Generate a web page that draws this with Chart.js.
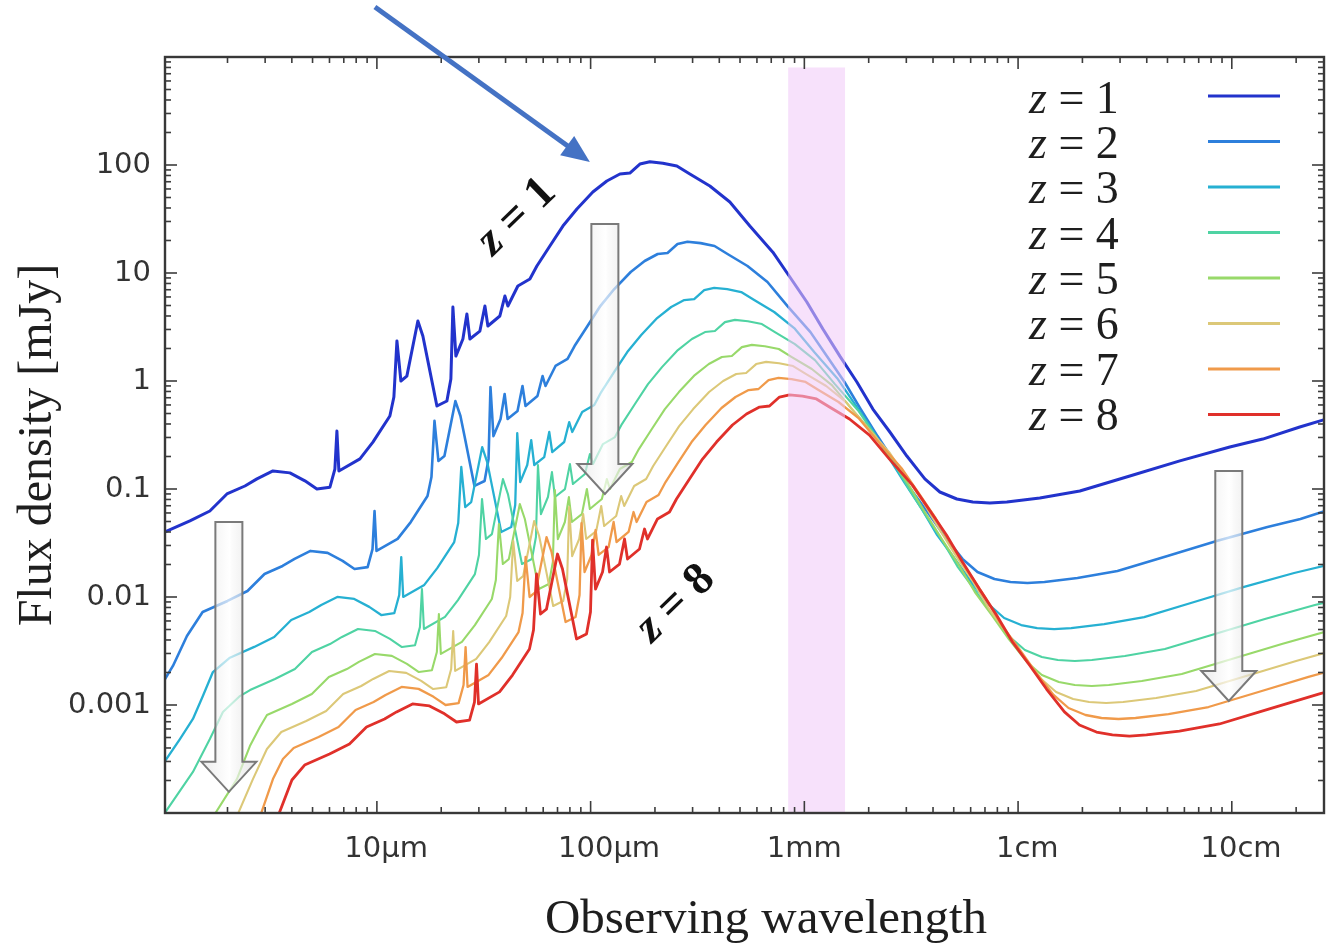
<!DOCTYPE html>
<html>
<head>
<meta charset="utf-8">
<script src="https://cdn.jsdelivr.net/npm/chart.js@4.4.1/dist/chart.umd.min.js"></script>
<style>
html,body{margin:0;padding:0;background:#ffffff;}
#wrap{width:1327px;height:947px;position:relative;}
</style>
</head>
<body>
<div id="wrap"><canvas id="c" width="1327" height="947"></canvas></div>
<script>
// ---------------- DATA (observed wavelength in µm, flux density in mJy) ----------------
const seriesLabels = ['z = 1','z = 2','z = 3','z = 4','z = 5','z = 6','z = 7','z = 8'];

const lam_z1 = [1.02,1.334,1.654,1.987,2.413,2.746,3.263,3.917,4.605,5.24,6.03,6.36,6.50,6.64,8.33,9.58,11.50,12.01,12.41,12.95,13.81,15.55,16.41,17.14,19.09,21.26,22.19,22.68,23.42,25.26,26.37,27.24,30.34,32.02,33.06,37.62,39.70,41.02,45.66,51.98,56.05,64.47,74.18,86.26,102.4,119.1,137.1,152.6,170.0,189.3,217.8,253.2,291.3,361.3,448.2,555.9,712.2,855.4,1027,1221,1466,1761,2092,2512,3017,3662,4305,5169,6141,7376,8859,12640,19450,33330,57120,97860,139600,208000,278200];
const flux_z1 = [0.0400,0.0506,0.0626,0.0899,0.1066,0.124,0.147,0.141,0.119,0.100,0.104,0.153,0.344,0.147,0.190,0.272,0.474,0.711,2.35,1.00,1.11,3.59,2.61,1.70,0.587,0.653,1.044,4.84,1.70,2.45,4.17,2.45,2.90,4.95,3.23,4.00,6.12,4.95,7.58,8.80,11.6,17.8,27.2,39.1,56.2,71.1,82.5,84.3,102,107,104,97.9,82.5,63.9,45.4,27.2,15.6,9.18,5.39,3.03,1.70,0.979,0.550,0.337,0.202,0.124,0.0938,0.0808,0.0758,0.0742,0.0758,0.0825,0.0958,0.132,0.182,0.245,0.290,0.375,0.445];

const lam_z2 = [1.02,1.111,1.292,1.53,2.00,2.48,2.98,3.62,4.12,4.89,5.88,6.91,7.86,9.05,9.54,9.75,9.96,12.5,14.4,17.25,18.0,18.6,19.4,20.7,23.3,24.6,25.7,28.6,31.9,33.3,34.0,35.1,37.9,39.6,40.9,45.5,48.0,49.6,56.4,59.6,61.5,68.5,78.0,84.1,96.7,111,129,154,179,206,229,255,284,327,380,437,542,672,834,1068,1283,1541,1832,2199,2642,3138,3768,4526,5493,6458,7754,9212,11060,13290,18960,29180,50000,85680,146800,209400,312000];
const flux_z2 = [0.00174,0.0023,0.00435,0.00727,0.00919,0.01137,0.01633,0.01937,0.02253,0.02671,0.02562,0.02162,0.01817,0.0189,0.0278,0.0625,0.0267,0.0345,0.0494,0.0861,0.129,0.427,0.182,0.202,0.652,0.474,0.309,0.1067,0.1187,0.19,0.879,0.309,0.445,0.758,0.445,0.527,0.899,0.587,0.727,1.112,0.899,1.377,1.599,2.108,3.234,4.942,7.104,10.21,12.92,14.99,15.32,18.53,19.44,18.9,17.79,14.99,11.61,8.249,4.942,2.835,1.668,0.979,0.551,0.309,0.178,0.0999,0.0612,0.0367,0.02253,0.01704,0.01468,0.01377,0.01348,0.01377,0.01499,0.01741,0.02398,0.0331,0.0445,0.0527,0.0681];

const lam_z3 = [1.02,1.198,1.378,1.534,1.709,2.04,2.668,3.308,3.974,4.826,5.492,6.526,7.834,9.21,10.48,12.06,12.72,13.0,13.28,16.66,19.16,23.0,24.02,24.82,25.9,27.62,31.1,32.82,34.28,38.18,42.52,44.38,45.36,46.84,50.52,52.74,54.48,60.68,64.04,66.12,75.24,79.4,82.04,91.32,104.0,112.1,128.9,148.4,172.5,204.8,238.2,274.2,305.2,340,378.6,435.6,506.4,582.6,722.6,896.4,1112,1424,1711,2054,2442,2932,3522,4184,5024,6034,7324,8610,10340,12280,14750,17720,25280,38900,66660,114200,195700,279200];
const flux_z3 = [0.000303,0.000484,0.000742,0.00121,0.00202,0.00272,0.00345,0.00426,0.00612,0.00726,0.00844,0.01001,0.0096,0.0081,0.00681,0.00708,0.01042,0.02343,0.01001,0.01294,0.01852,0.03228,0.04842,0.16,0.0681,0.0756,0.2445,0.1777,0.1158,0.03997,0.04447,0.0711,0.3296,0.1158,0.1668,0.284,0.1668,0.1975,0.3371,0.22,0.2724,0.4168,0.3371,0.5162,0.5993,0.79,1.212,1.852,2.663,3.827,4.842,5.618,5.741,6.946,7.287,7.082,6.667,5.618,4.352,3.092,1.852,1.062,0.6252,0.3671,0.2063,0.1158,0.06667,0.03746,0.02295,0.01376,0.00844,0.00639,0.0055,0.00516,0.00505,0.00516,0.00562,0.00652,0.00899,0.01239,0.01668,0.01975];

const lam_z4 = [1.0,1.378,1.654,1.904,2.286,2.55,3.335,4.135,4.968,6.033,6.865,8.158,9.793,11.51,13.1,15.08,15.9,16.25,16.6,20.83,23.95,28.75,30.03,31.03,32.38,34.53,38.88,41.03,42.85,47.73,53.15,55.48,56.7,58.55,63.15,65.93,68.1,75.85,80.05,82.65,94.05,99.25,102.6,114.2,130,140.1,161.2,185.5,215.7,256,297.8,342.8,381.5,425,473.3,544.5,633,728.3,903.3,1121,1390,1781,2139,2568,3053,3665,4403,5230,6280,7543,9155,10760,12920,15350,18440,22150,31600,48630,83330,142800,244700,349000];
const flux_z4 = [0.000095,0.00024,0.000484,0.000861,0.00121,0.001376,0.00174,0.002153,0.003093,0.003667,0.004266,0.005057,0.00485,0.004094,0.00344,0.003578,0.005263,0.01183,0.005057,0.006536,0.009357,0.01631,0.02446,0.08084,0.0344,0.03818,0.1235,0.08978,0.05848,0.02019,0.02246,0.03591,0.1665,0.05848,0.08428,0.1434,0.08428,0.09976,0.1703,0.1111,0.1376,0.2105,0.1703,0.2608,0.3027,0.399,0.6123,0.9357,1.345,1.933,2.446,2.838,2.9,3.509,3.681,3.578,3.368,2.838,2.198,1.562,0.9357,0.5366,0.3158,0.1854,0.1042,0.05848,0.03368,0.01892,0.01159,0.006949,0.004266,0.003227,0.00278,0.002608,0.002552,0.002608,0.002838,0.003296,0.004541,0.006261,0.008428,0.009976];

const lam_z5 = [1.746,2.213,2.546,2.836,3.06,4.002,4.962,5.961,7.239,8.238,9.789,11.75,13.82,15.72,18.09,19.08,19.5,19.92,24.99,28.74,34.5,36.03,37.23,38.85,41.43,46.65,49.23,51.42,57.27,63.78,66.57,68.04,70.26,75.78,79.11,81.72,91.02,96.06,99.18,112.9,119.1,123.1,137,155.9,168.2,193.4,222.5,258.8,307.2,357.3,411.3,457.8,510,567.9,653.4,759.6,873.9,1084,1345,1668,2137,2566,3081,3663,4398,5283,6276,7536,9051,10990,12920,15510,18420,22130,26580,37920,58350,99990,171400,293600];
const flux_z5 = [0.000098,0.000206,0.000417,0.000625,0.000808,0.001022,0.001265,0.001816,0.002153,0.002505,0.002969,0.002848,0.002404,0.00202,0.002101,0.003091,0.006949,0.002969,0.003838,0.005494,0.009575,0.01436,0.04747,0.0202,0.02242,0.07252,0.05272,0.03434,0.01186,0.01319,0.02109,0.09777,0.03434,0.04949,0.08423,0.04949,0.05858,0.1,0.06525,0.0808,0.1236,0.1,0.1531,0.1778,0.2343,0.3596,0.5494,0.7898,1.135,1.436,1.667,1.703,2.06,2.161,2.101,1.978,1.667,1.291,0.9171,0.5494,0.3151,0.1854,0.1089,0.06121,0.03434,0.01978,0.01111,0.006807,0.00408,0.002505,0.001895,0.001632,0.001531,0.001499,0.001531,0.001667,0.001935,0.002666,0.003676,0.004949];

const lam_z6 = [2.237,2.63,3.058,3.57,4.669,5.789,6.955,8.446,9.611,11.42,13.71,16.12,18.34,21.11,22.26,22.75,23.24,29.16,33.53,40.25,42.04,43.44,45.33,48.34,54.43,57.44,59.99,66.82,74.41,77.67,79.38,81.97,88.41,92.3,95.34,106.2,112.1,115.7,131.7,139,143.6,159.8,181.9,196.2,225.6,259.6,301.9,358.4,416.9,479.9,534.1,595,662.6,762.3,886.2,1020,1265,1569,1946,2493,2994,3595,4274,5131,6164,7322,8792,10560,12820,15070,18090,21490,25820,31010,44240,68080,116700,199900,342500];
const flux_z6 = [0.000098,0.000206,0.000391,0.000562,0.000711,0.00088,0.001264,0.001499,0.001743,0.002067,0.001982,0.001673,0.001406,0.001462,0.002151,0.004837,0.002067,0.002671,0.003824,0.006664,0.009997,0.03304,0.01406,0.01561,0.05048,0.0367,0.0239,0.008253,0.009181,0.01468,0.06805,0.0239,0.03445,0.05863,0.03445,0.04077,0.0696,0.04541,0.05624,0.08605,0.0696,0.1066,0.1237,0.1631,0.2503,0.3824,0.5497,0.7902,0.9997,1.16,1.185,1.434,1.504,1.462,1.376,1.16,0.8984,0.6383,0.3824,0.2193,0.1291,0.07578,0.0426,0.0239,0.01376,0.007733,0.004738,0.00284,0.001743,0.001319,0.001136,0.001066,0.001043,0.001066,0.00116,0.001347,0.001856,0.002559,0.003445];

const lam_z7 = [2.867,3.263,3.633,4.08,5.336,6.616,7.948,9.652,10.98,13.05,15.67,18.42,20.96,24.12,25.44,26.0,26.56,33.32,38.32,46.0,48.04,49.64,51.8,55.24,62.2,65.64,68.56,76.36,85.04,88.76,90.72,93.68,101,105.5,109,121.4,128.1,132.2,150.5,158.8,164.1,182.6,207.9,224.2,257.9,296.7,345,409.6,476.4,548.4,610.4,680,757.2,871.2,1013,1165,1445,1793,2224,2849,3422,4108,4884,5864,7044,8368,10050,12070,14650,17220,20680,24560,29500,35440,50560,77800,133300,228500,391400];
const flux_z7 = [0.000098,0.000206,0.000316,0.0004,0.000506,0.000626,0.000899,0.001066,0.00124,0.00147,0.00141,0.00119,0.001,0.00104,0.00153,0.00344,0.00147,0.0019,0.00272,0.00474,0.00711,0.0235,0.01,0.0111,0.0359,0.0261,0.017,0.00587,0.00653,0.01044,0.0484,0.017,0.0245,0.0417,0.0245,0.029,0.0495,0.0323,0.04,0.0612,0.0495,0.0758,0.088,0.116,0.178,0.272,0.391,0.562,0.711,0.825,0.843,1.02,1.07,1.04,0.979,0.825,0.639,0.454,0.272,0.156,0.0918,0.0539,0.0303,0.017,0.00979,0.0055,0.00337,0.00202,0.00124,0.000938,0.000808,0.000758,0.000742,0.000758,0.000825,0.000958,0.00132,0.00182,0.00245];

const lam_z8 = [3.479,4.003,4.59,6.003,7.443,8.942,10.86,12.36,14.68,17.63,20.72,23.58,27.14,28.62,29.25,29.88,37.49,43.11,51.75,54.05,55.85,58.28,62.15,69.98,73.85,77.13,85.91,95.67,99.86,102.1,105.4,113.7,118.7,122.6,136.5,144.1,148.8,169.3,178.7,184.6,205.5,233.9,252.2,290.1,333.8,388.2,460.8,536,617,686.7,765,851.9,980.1,1139,1311,1626,2017,2502,3205,3849,4622,5494,6597,7925,9414,11300,13580,16480,19370,23260,27630,33190,39870,56880,87530,150000,257000,440400];
const flux_z8 = [0.000098,0.000202,0.000278,0.000352,0.000436,0.000626,0.000742,0.000863,0.001023,0.000981,0.000828,0.000696,0.000724,0.001065,0.002394,0.001023,0.001322,0.001893,0.003299,0.004949,0.01636,0.00696,0.007726,0.02499,0.01817,0.01183,0.004086,0.004545,0.007266,0.03369,0.01183,0.01705,0.02902,0.01705,0.02018,0.03445,0.02248,0.02784,0.0426,0.03445,0.05276,0.06125,0.08074,0.1239,0.1893,0.2721,0.3912,0.4949,0.5742,0.5867,0.7099,0.7447,0.7238,0.6814,0.5742,0.4447,0.316,0.1893,0.1086,0.06389,0.03751,0.02109,0.01183,0.006814,0.003828,0.002346,0.001406,0.000863,0.000653,0.000562,0.000528,0.000516,0.000528,0.000574,0.000667,0.000919,0.001267,0.001705];

// tick labels
const xTickValues = [10, 100, 1000, 10000, 100000];
const xTickLabels = ['10µm', '100µm', '1mm', '1cm', '10cm'];
const yTickValues = [100, 10, 1, 0.1, 0.01, 0.001];
const yTickLabels = ['100', '10', '1', '0.1', '0.01', '0.001'];

// shaded observing band (µm) and its upper edge (mJy)
const bandRange = [840, 1550];
const bandTop = 800;

// annotation anchors in data units [wavelength µm, flux mJy]
const arrowsDown = [
  {lam: 2.03, top: 0.0495, tip: 0.000157},
  {lam: 116.6, top: 28.4, tip: 0.0899},
  {lam: 96800, top: 0.147, tip: 0.00109}
];
const pointerArrow = {from: [9.79, 2904], to: [99.2, 106.6]};
const curveNotes = [
  {text: ['z', ' = 1'], lam: 45.2, flux: 33.0},
  {text: ['z', ' = 8'], lam: 250.5, flux: 0.00861}
];

// ---------------- STYLE ----------------
const seriesColors = ['#2233cc', '#2d7fdc', '#26b0d2', '#4fd3a3', '#98d96a', '#dcc878', '#f09a4a', '#e0302a'];
const seriesWidths = [3, 2.6, 2.3, 2.1, 2.1, 2.1, 2.3, 2.8];
// horizontal nudge of each x tick label (layout only), in leading spaces
const xLabelNudge = [2, 4, 0, 2, 2];

const lamSets = [lam_z1, lam_z2, lam_z3, lam_z4, lam_z5, lam_z6, lam_z7, lam_z8];
const fluxSets = [flux_z1, flux_z2, flux_z3, flux_z4, flux_z5, flux_z6, flux_z7, flux_z8];

const datasets = lamSets.map((lam, i) => {
  const fl = fluxSets[i];
  const n = Math.min(lam.length, fl.length);
  if (lam.length !== fl.length) console.warn('length mismatch', i, lam.length, fl.length);
  const pts = [];
  for (let j = 0; j < n; j++) pts.push({x: lam[j], y: fl[j]});
  return {
    label: seriesLabels[i],
    data: pts,
    borderColor: seriesColors[i],
    backgroundColor: seriesColors[i],
    borderWidth: seriesWidths[i],
    pointRadius: 0,
    tension: 0,
    fill: false,
    borderJoinStyle: 'round',
    borderCapStyle: 'round',
    order: 8 - i
  };
});

function decadeTicks(min, max) {
  const out = [];
  const e0 = Math.floor(Math.log10(min)), e1 = Math.ceil(Math.log10(max));
  for (let e = e0; e <= e1; e++) {
    for (let m = 1; m <= 9; m++) {
      const v = Number((m * Math.pow(10, e)).toPrecision(6));
      if (v >= min * 0.999999 && v <= max * 1.000001) out.push({value: v});
    }
  }
  return out;
}
function isDecade(v) {
  const l = Math.log10(v);
  return Math.abs(l - Math.round(l)) < 1e-6;
}
function tickIndex(values, v) {
  return values.findIndex(t => Math.abs(t - v) / t < 1e-6);
}

function line(ctx, x0, y0, x1, y1) {
  ctx.beginPath(); ctx.moveTo(x0, y0); ctx.lineTo(x1, y1); ctx.stroke();
}

function hollowArrow(ctx, cx, yTop, yTip) {
  const sw = 13.5, hw = 27.5, hl = 30;
  const yb = yTip - hl;
  ctx.save();
  ctx.beginPath();
  ctx.moveTo(cx - sw, yTop);
  ctx.lineTo(cx + sw, yTop);
  ctx.lineTo(cx + sw, yb);
  ctx.lineTo(cx + hw, yb);
  ctx.lineTo(cx, yTip);
  ctx.lineTo(cx - hw, yb);
  ctx.lineTo(cx - sw, yb);
  ctx.closePath();
  const g = ctx.createLinearGradient(cx - hw, 0, cx + hw, 0);
  g.addColorStop(0, 'rgba(225,225,225,0.6)');
  g.addColorStop(0.5, 'rgba(255,255,255,0.7)');
  g.addColorStop(1, 'rgba(215,215,215,0.6)');
  ctx.fillStyle = g;
  ctx.fill();
  ctx.lineJoin = 'miter';
  ctx.strokeStyle = '#7a7a7a';
  ctx.lineWidth = 2;
  ctx.stroke();
  ctx.restore();
}

const decor = {
  id: 'decor',
  afterDatasetsDraw(chart) {
    const {ctx, chartArea: a, scales: {x, y}} = chart;
    const x0 = x.getPixelForValue(bandRange[0]);
    const x1 = x.getPixelForValue(bandRange[1]);
    const yt = y.getPixelForValue(bandTop);
    ctx.save();
    ctx.fillStyle = 'rgba(240,200,248,0.55)';
    ctx.fillRect(x0, yt, x1 - x0, a.bottom - yt);
    ctx.restore();
  },
  afterDraw(chart) {
    const {ctx, chartArea: a, scales: {x, y}} = chart;
    ctx.save();
    // inward tick marks on all four sides
    ctx.strokeStyle = '#3c3c3c';
    ctx.lineWidth = 1.6;
    x.ticks.forEach(t => {
      const v = t.value;
      if (v < x.min || v > x.max) return;
      const px = x.getPixelForValue(v);
      const len = isDecade(v) ? 12 : 6;
      line(ctx, px, a.bottom, px, a.bottom - len);
      line(ctx, px, a.top, px, a.top + len);
    });
    y.ticks.forEach(t => {
      const v = t.value;
      if (v < y.min || v > y.max) return;
      const py = y.getPixelForValue(v);
      const len = isDecade(v) ? 12 : 6;
      line(ctx, a.left, py, a.left + len, py);
      line(ctx, a.right, py, a.right - len, py);
    });
    // frame
    ctx.lineWidth = 2.4;
    ctx.strokeStyle = '#383838';
    ctx.strokeRect(a.left, a.top, a.right - a.left, a.bottom - a.top);

    // hollow down arrows
    arrowsDown.forEach(ar => {
      hollowArrow(ctx, x.getPixelForValue(ar.lam), y.getPixelForValue(ar.top), y.getPixelForValue(ar.tip));
    });

    // blue pointer arrow
    {
      const sx = x.getPixelForValue(pointerArrow.from[0]), sy = y.getPixelForValue(pointerArrow.from[1]);
      const tx = x.getPixelForValue(pointerArrow.to[0]), ty = y.getPixelForValue(pointerArrow.to[1]);
      const dx = tx - sx, dy = ty - sy, L = Math.hypot(dx, dy);
      const ux = dx / L, uy = dy / L;
      const hl = 28, hw = 12;
      const bx = tx - ux * hl, by = ty - uy * hl;
      ctx.strokeStyle = '#4472c4';
      ctx.fillStyle = '#4472c4';
      ctx.lineWidth = 5;
      ctx.lineCap = 'butt';
      line(ctx, sx, sy, bx + ux * 2, by + uy * 2);
      ctx.beginPath();
      ctx.moveTo(tx, ty);
      ctx.lineTo(bx - uy * hw, by + ux * hw);
      ctx.lineTo(bx + uy * hw, by - ux * hw);
      ctx.closePath();
      ctx.fill();
    }

    // rotated curve notes
    curveNotes.forEach(n => {
      const px = x.getPixelForValue(n.lam), py = y.getPixelForValue(n.flux);
      ctx.save();
      ctx.translate(px, py);
      ctx.rotate(-44 * Math.PI / 180);
      ctx.fillStyle = '#111';
      ctx.textBaseline = 'middle';
      ctx.textAlign = 'left';
      const f1 = 'bold italic 46px "Liberation Serif"', f2 = 'bold 46px "Liberation Serif"';
      ctx.font = f1; const w1 = ctx.measureText(n.text[0]).width;
      ctx.font = f2; const w2 = ctx.measureText(n.text[1]).width;
      const sx = -(w1 + w2) / 2;
      ctx.font = f1; ctx.fillText(n.text[0], sx, 0);
      ctx.font = f2; ctx.fillText(n.text[1], sx + w1, 0);
      ctx.restore();
    });

    // legend (text left, line sample right)
    chart.data.datasets.forEach((ds, i) => {
      const base = 112.7 + 45.3 * i;
      ctx.fillStyle = '#1e1e1e';
      ctx.textAlign = 'left';
      ctx.textBaseline = 'alphabetic';
      const zPart = ds.label.slice(0, 1), rest = ds.label.slice(1);
      ctx.font = 'italic 46px "Liberation Serif"';
      ctx.fillText(zPart, 1029, base);
      const w = ctx.measureText(zPart).width;
      ctx.font = '46px "Liberation Serif"';
      ctx.fillText(rest, 1029 + w, base);
      const ly = 96 + 45.5 * i;
      ctx.strokeStyle = ds.borderColor;
      ctx.lineWidth = 3;
      ctx.lineCap = 'butt';
      line(ctx, 1208, ly, 1280, ly);
    });

    // axis titles
    ctx.fillStyle = '#1e1e1e';
    ctx.font = '49px "Liberation Serif"';
    ctx.textAlign = 'center';
    ctx.textBaseline = 'alphabetic';
    ctx.fillText('Observing wavelength', 766, 933);
    ctx.font = '48px "Liberation Serif"';
    ctx.save();
    ctx.translate(51, 445);
    ctx.rotate(-Math.PI / 2);
    ctx.fillText('Flux density [mJy]', 0, 0);
    ctx.restore();

    ctx.restore();
  }
};

const tickFont = {family: '"DejaVu Sans", sans-serif', size: 29};

new Chart(document.getElementById('c'), {
  type: 'line',
  data: {datasets},
  options: {
    responsive: false,
    devicePixelRatio: 1,
    animation: false,
    events: [],
    layout: {padding: {left: 0, top: 57, right: 3, bottom: 0}},
    plugins: {legend: {display: false}, tooltip: {enabled: false}, title: {display: false}},
    scales: {
      x: {
        type: 'logarithmic',
        min: 1.02,
        max: 270000,
        grid: {display: false, drawTicks: false},
        border: {display: false},
        afterBuildTicks: s => { s.ticks = decadeTicks(s.min, s.max); },
        afterFit: s => { s.height = 134; },
        ticks: {
          autoSkip: false, maxRotation: 0, minRotation: 0, padding: 19,
          font: tickFont, color: '#333333',
          callback: v => {
            const k = tickIndex(xTickValues, v);
            return k >= 0 ? ' '.repeat(xLabelNudge[k]) + xTickLabels[k] : '';
          }
        }
      },
      y: {
        type: 'logarithmic',
        min: 0.0001,
        max: 1000,
        grid: {display: false, drawTicks: false},
        border: {display: false},
        afterBuildTicks: s => { s.ticks = decadeTicks(s.min, s.max); },
        afterFit: s => { s.width = 165; },
        ticks: {
          autoSkip: false, padding: 14,
          font: tickFont, color: '#333333',
          callback: v => {
            const k = tickIndex(yTickValues, v);
            return k >= 0 ? yTickLabels[k] : '';
          }
        }
      }
    }
  },
  plugins: [decor]
});
</script>
</body>
</html>
